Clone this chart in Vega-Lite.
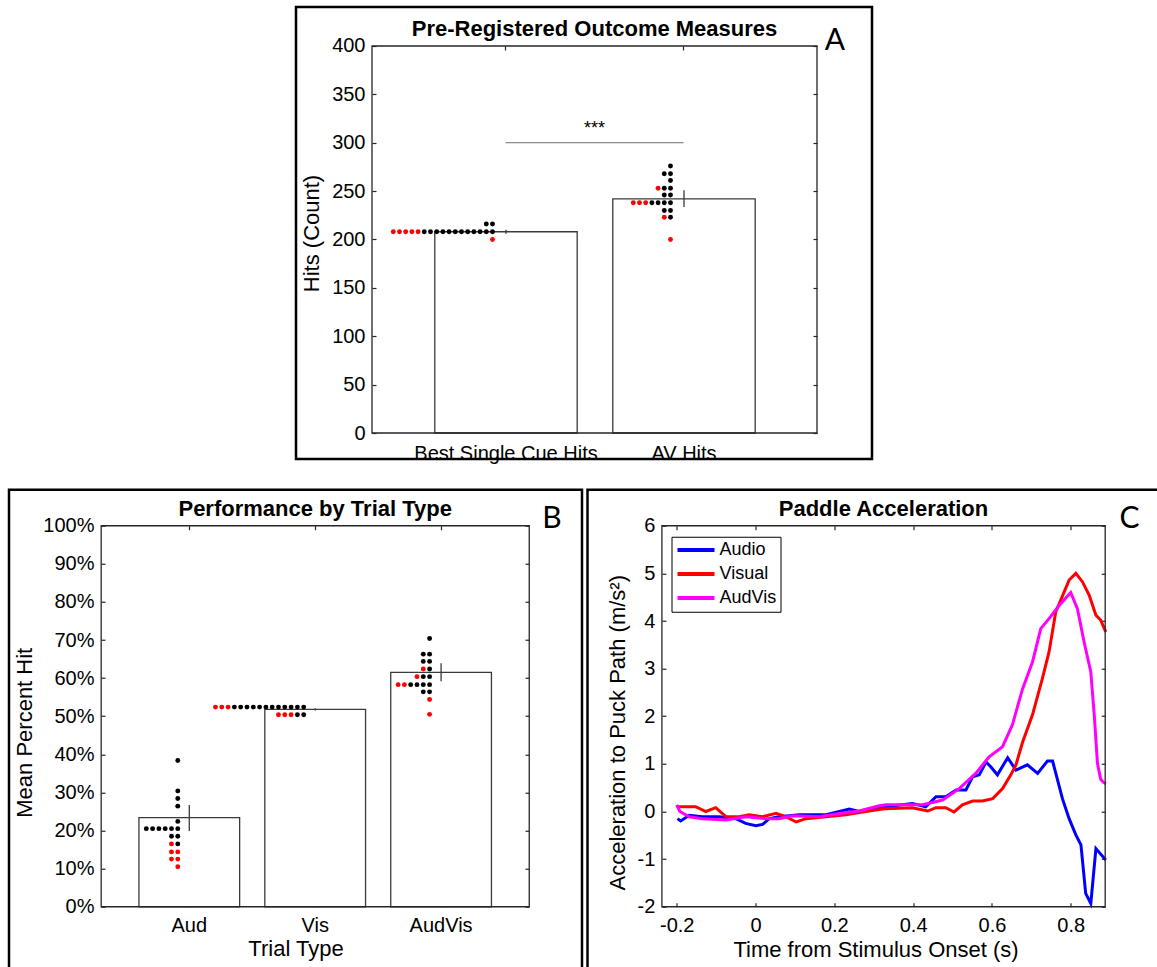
{
  "$schema": "https://vega.github.io/schema/vega-lite/v6.json",
  "background": "white",
  "padding": {"left": 7, "top": 5, "right": -5, "bottom": -3},
  "datasets": {
    "barsA": [
      {"cat": "Best Single Cue Hits", "mean": 208, "lo": 206, "hi": 210},
      {"cat": "AV Hits", "mean": 242, "lo": 233.6, "hi": 250.9}
    ],
    "dotsA": [
      {"cat": "Best Single Cue Hits", "val": 208, "group": "r"},
      {"cat": "Best Single Cue Hits", "val": 208, "group": "r"},
      {"cat": "Best Single Cue Hits", "val": 208, "group": "r"},
      {"cat": "Best Single Cue Hits", "val": 208, "group": "r"},
      {"cat": "Best Single Cue Hits", "val": 208, "group": "r"},
      {"cat": "Best Single Cue Hits", "val": 208, "group": "k"},
      {"cat": "Best Single Cue Hits", "val": 208, "group": "k"},
      {"cat": "Best Single Cue Hits", "val": 208, "group": "k"},
      {"cat": "Best Single Cue Hits", "val": 208, "group": "k"},
      {"cat": "Best Single Cue Hits", "val": 208, "group": "k"},
      {"cat": "Best Single Cue Hits", "val": 208, "group": "k"},
      {"cat": "Best Single Cue Hits", "val": 208, "group": "k"},
      {"cat": "Best Single Cue Hits", "val": 208, "group": "k"},
      {"cat": "Best Single Cue Hits", "val": 208, "group": "k"},
      {"cat": "Best Single Cue Hits", "val": 208, "group": "k"},
      {"cat": "Best Single Cue Hits", "val": 208, "group": "k"},
      {"cat": "Best Single Cue Hits", "val": 208, "group": "k"},
      {"cat": "Best Single Cue Hits", "val": 216, "group": "k"},
      {"cat": "Best Single Cue Hits", "val": 216, "group": "k"},
      {"cat": "Best Single Cue Hits", "val": 200, "group": "r"},
      {"cat": "AV Hits", "val": 276, "group": "k"},
      {"cat": "AV Hits", "val": 268, "group": "k"},
      {"cat": "AV Hits", "val": 268, "group": "k"},
      {"cat": "AV Hits", "val": 261, "group": "k"},
      {"cat": "AV Hits", "val": 253, "group": "r"},
      {"cat": "AV Hits", "val": 253, "group": "k"},
      {"cat": "AV Hits", "val": 253, "group": "k"},
      {"cat": "AV Hits", "val": 246, "group": "k"},
      {"cat": "AV Hits", "val": 246, "group": "k"},
      {"cat": "AV Hits", "val": 238, "group": "r"},
      {"cat": "AV Hits", "val": 238, "group": "r"},
      {"cat": "AV Hits", "val": 238, "group": "r"},
      {"cat": "AV Hits", "val": 238, "group": "k"},
      {"cat": "AV Hits", "val": 238, "group": "k"},
      {"cat": "AV Hits", "val": 238, "group": "k"},
      {"cat": "AV Hits", "val": 238, "group": "k"},
      {"cat": "AV Hits", "val": 230, "group": "k"},
      {"cat": "AV Hits", "val": 230, "group": "k"},
      {"cat": "AV Hits", "val": 223, "group": "r"},
      {"cat": "AV Hits", "val": 223, "group": "k"},
      {"cat": "AV Hits", "val": 200, "group": "r"}
    ],
    "barsB": [
      {"cat": "Aud", "mean": 23.4, "lo": 19.9, "hi": 26.7},
      {"cat": "Vis", "mean": 51.8, "lo": 51.5, "hi": 52.1},
      {"cat": "AudVis", "mean": 61.5, "lo": 59.2, "hi": 63.9}
    ],
    "dotsB": [
      {"cat": "Aud", "val": 38.4, "group": "k"},
      {"cat": "Aud", "val": 30.4, "group": "k"},
      {"cat": "Aud", "val": 28.4, "group": "k"},
      {"cat": "Aud", "val": 26.4, "group": "k"},
      {"cat": "Aud", "val": 22.4, "group": "k"},
      {"cat": "Aud", "val": 20.5, "group": "k"},
      {"cat": "Aud", "val": 20.5, "group": "k"},
      {"cat": "Aud", "val": 20.5, "group": "k"},
      {"cat": "Aud", "val": 20.5, "group": "k"},
      {"cat": "Aud", "val": 20.5, "group": "k"},
      {"cat": "Aud", "val": 20.5, "group": "k"},
      {"cat": "Aud", "val": 18.5, "group": "k"},
      {"cat": "Aud", "val": 18.5, "group": "k"},
      {"cat": "Aud", "val": 16.5, "group": "r"},
      {"cat": "Aud", "val": 16.5, "group": "k"},
      {"cat": "Aud", "val": 14.4, "group": "r"},
      {"cat": "Aud", "val": 14.4, "group": "r"},
      {"cat": "Aud", "val": 12.5, "group": "r"},
      {"cat": "Aud", "val": 12.5, "group": "r"},
      {"cat": "Aud", "val": 10.5, "group": "r"},
      {"cat": "Vis", "val": 52.4, "group": "r"},
      {"cat": "Vis", "val": 52.4, "group": "r"},
      {"cat": "Vis", "val": 52.4, "group": "r"},
      {"cat": "Vis", "val": 52.4, "group": "k"},
      {"cat": "Vis", "val": 52.4, "group": "k"},
      {"cat": "Vis", "val": 52.4, "group": "k"},
      {"cat": "Vis", "val": 52.4, "group": "k"},
      {"cat": "Vis", "val": 52.4, "group": "k"},
      {"cat": "Vis", "val": 52.4, "group": "k"},
      {"cat": "Vis", "val": 52.4, "group": "k"},
      {"cat": "Vis", "val": 52.4, "group": "k"},
      {"cat": "Vis", "val": 52.4, "group": "k"},
      {"cat": "Vis", "val": 52.4, "group": "k"},
      {"cat": "Vis", "val": 52.4, "group": "k"},
      {"cat": "Vis", "val": 52.4, "group": "k"},
      {"cat": "Vis", "val": 50.4, "group": "r"},
      {"cat": "Vis", "val": 50.4, "group": "r"},
      {"cat": "Vis", "val": 50.4, "group": "r"},
      {"cat": "Vis", "val": 50.4, "group": "k"},
      {"cat": "Vis", "val": 50.4, "group": "k"},
      {"cat": "AudVis", "val": 70.4, "group": "k"},
      {"cat": "AudVis", "val": 66.3, "group": "k"},
      {"cat": "AudVis", "val": 66.3, "group": "k"},
      {"cat": "AudVis", "val": 64.4, "group": "k"},
      {"cat": "AudVis", "val": 64.4, "group": "k"},
      {"cat": "AudVis", "val": 62.4, "group": "r"},
      {"cat": "AudVis", "val": 62.4, "group": "k"},
      {"cat": "AudVis", "val": 60.4, "group": "r"},
      {"cat": "AudVis", "val": 60.4, "group": "k"},
      {"cat": "AudVis", "val": 60.4, "group": "k"},
      {"cat": "AudVis", "val": 58.3, "group": "r"},
      {"cat": "AudVis", "val": 58.3, "group": "r"},
      {"cat": "AudVis", "val": 58.3, "group": "k"},
      {"cat": "AudVis", "val": 58.3, "group": "k"},
      {"cat": "AudVis", "val": 58.3, "group": "k"},
      {"cat": "AudVis", "val": 58.3, "group": "k"},
      {"cat": "AudVis", "val": 56.4, "group": "k"},
      {"cat": "AudVis", "val": 56.4, "group": "k"},
      {"cat": "AudVis", "val": 54.4, "group": "r"},
      {"cat": "AudVis", "val": 50.5, "group": "r"}
    ],
    "lines": [
      {"cond": "Audio", "t": -0.198, "v": -0.15},
      {"cond": "Audio", "t": -0.19, "v": -0.2},
      {"cond": "Audio", "t": -0.168, "v": -0.08},
      {"cond": "Audio", "t": -0.135, "v": -0.11},
      {"cond": "Audio", "t": -0.092, "v": -0.11},
      {"cond": "Audio", "t": -0.05, "v": -0.15},
      {"cond": "Audio", "t": -0.025, "v": -0.25},
      {"cond": "Audio", "t": 0.001, "v": -0.3},
      {"cond": "Audio", "t": 0.018, "v": -0.27},
      {"cond": "Audio", "t": 0.035, "v": -0.15},
      {"cond": "Audio", "t": 0.06, "v": -0.11},
      {"cond": "Audio", "t": 0.111, "v": -0.07},
      {"cond": "Audio", "t": 0.179, "v": -0.07},
      {"cond": "Audio", "t": 0.238, "v": 0.05},
      {"cond": "Audio", "t": 0.263, "v": 0.0},
      {"cond": "Audio", "t": 0.305, "v": 0.08},
      {"cond": "Audio", "t": 0.331, "v": 0.1},
      {"cond": "Audio", "t": 0.398, "v": 0.17},
      {"cond": "Audio", "t": 0.432, "v": 0.1},
      {"cond": "Audio", "t": 0.458, "v": 0.31},
      {"cond": "Audio", "t": 0.483, "v": 0.31},
      {"cond": "Audio", "t": 0.509, "v": 0.45},
      {"cond": "Audio", "t": 0.534, "v": 0.45},
      {"cond": "Audio", "t": 0.551, "v": 0.73},
      {"cond": "Audio", "t": 0.568, "v": 0.77},
      {"cond": "Audio", "t": 0.585, "v": 1.04},
      {"cond": "Audio", "t": 0.597, "v": 0.94},
      {"cond": "Audio", "t": 0.614, "v": 0.77},
      {"cond": "Audio", "t": 0.64, "v": 1.13},
      {"cond": "Audio", "t": 0.661, "v": 0.87},
      {"cond": "Audio", "t": 0.69, "v": 0.98},
      {"cond": "Audio", "t": 0.716, "v": 0.8},
      {"cond": "Audio", "t": 0.741, "v": 1.06},
      {"cond": "Audio", "t": 0.754, "v": 1.06},
      {"cond": "Audio", "t": 0.779, "v": 0.27},
      {"cond": "Audio", "t": 0.796, "v": -0.15},
      {"cond": "Audio", "t": 0.813, "v": -0.49},
      {"cond": "Audio", "t": 0.826, "v": -0.7},
      {"cond": "Audio", "t": 0.838, "v": -1.72},
      {"cond": "Audio", "t": 0.851, "v": -1.93},
      {"cond": "Audio", "t": 0.864, "v": -0.78},
      {"cond": "Audio", "t": 0.889, "v": -1.02},
      {"cond": "Visual", "t": -0.198, "v": 0.1},
      {"cond": "Visual", "t": -0.152, "v": 0.1},
      {"cond": "Visual", "t": -0.126, "v": 0.0},
      {"cond": "Visual", "t": -0.101, "v": 0.08},
      {"cond": "Visual", "t": -0.075, "v": -0.11},
      {"cond": "Visual", "t": -0.041, "v": -0.11},
      {"cond": "Visual", "t": -0.016, "v": -0.07},
      {"cond": "Visual", "t": 0.018, "v": -0.11},
      {"cond": "Visual", "t": 0.052, "v": -0.04},
      {"cond": "Visual", "t": 0.077, "v": -0.11},
      {"cond": "Visual", "t": 0.103, "v": -0.22},
      {"cond": "Visual", "t": 0.128, "v": -0.15},
      {"cond": "Visual", "t": 0.179, "v": -0.11},
      {"cond": "Visual", "t": 0.229, "v": -0.07},
      {"cond": "Visual", "t": 0.28, "v": 0.0},
      {"cond": "Visual", "t": 0.331, "v": 0.06},
      {"cond": "Visual", "t": 0.398, "v": 0.08},
      {"cond": "Visual", "t": 0.437, "v": 0.01},
      {"cond": "Visual", "t": 0.458, "v": 0.08},
      {"cond": "Visual", "t": 0.483, "v": 0.08},
      {"cond": "Visual", "t": 0.504, "v": -0.01},
      {"cond": "Visual", "t": 0.525, "v": 0.14},
      {"cond": "Visual", "t": 0.551, "v": 0.22},
      {"cond": "Visual", "t": 0.576, "v": 0.22},
      {"cond": "Visual", "t": 0.602, "v": 0.27},
      {"cond": "Visual", "t": 0.627, "v": 0.48},
      {"cond": "Visual", "t": 0.648, "v": 0.77},
      {"cond": "Visual", "t": 0.661, "v": 0.98},
      {"cond": "Visual", "t": 0.678, "v": 1.46},
      {"cond": "Visual", "t": 0.703, "v": 2.03},
      {"cond": "Visual", "t": 0.728, "v": 2.79},
      {"cond": "Visual", "t": 0.745, "v": 3.35},
      {"cond": "Visual", "t": 0.762, "v": 4.19},
      {"cond": "Visual", "t": 0.796, "v": 4.86},
      {"cond": "Visual", "t": 0.813, "v": 5.0},
      {"cond": "Visual", "t": 0.83, "v": 4.82},
      {"cond": "Visual", "t": 0.847, "v": 4.54},
      {"cond": "Visual", "t": 0.864, "v": 4.12},
      {"cond": "Visual", "t": 0.876, "v": 4.02},
      {"cond": "Visual", "t": 0.889, "v": 3.77},
      {"cond": "AudVis", "t": -0.2, "v": 0.14},
      {"cond": "AudVis", "t": -0.192, "v": 0.0},
      {"cond": "AudVis", "t": -0.168, "v": -0.11},
      {"cond": "AudVis", "t": -0.135, "v": -0.15},
      {"cond": "AudVis", "t": -0.075, "v": -0.18},
      {"cond": "AudVis", "t": -0.025, "v": -0.11},
      {"cond": "AudVis", "t": 0.026, "v": -0.15},
      {"cond": "AudVis", "t": 0.06, "v": -0.15},
      {"cond": "AudVis", "t": 0.094, "v": -0.09},
      {"cond": "AudVis", "t": 0.162, "v": -0.11},
      {"cond": "AudVis", "t": 0.212, "v": -0.04},
      {"cond": "AudVis", "t": 0.263, "v": 0.01},
      {"cond": "AudVis", "t": 0.314, "v": 0.12},
      {"cond": "AudVis", "t": 0.331, "v": 0.14},
      {"cond": "AudVis", "t": 0.424, "v": 0.14},
      {"cond": "AudVis", "t": 0.475, "v": 0.24},
      {"cond": "AudVis", "t": 0.517, "v": 0.48},
      {"cond": "AudVis", "t": 0.559, "v": 0.8},
      {"cond": "AudVis", "t": 0.593, "v": 1.15},
      {"cond": "AudVis", "t": 0.627, "v": 1.36},
      {"cond": "AudVis", "t": 0.652, "v": 1.82},
      {"cond": "AudVis", "t": 0.678, "v": 2.58},
      {"cond": "AudVis", "t": 0.703, "v": 3.14},
      {"cond": "AudVis", "t": 0.724, "v": 3.84},
      {"cond": "AudVis", "t": 0.745, "v": 4.05},
      {"cond": "AudVis", "t": 0.771, "v": 4.33},
      {"cond": "AudVis", "t": 0.8, "v": 4.6},
      {"cond": "AudVis", "t": 0.817, "v": 4.26},
      {"cond": "AudVis", "t": 0.834, "v": 3.56},
      {"cond": "AudVis", "t": 0.851, "v": 2.93},
      {"cond": "AudVis", "t": 0.86, "v": 2.0},
      {"cond": "AudVis", "t": 0.868, "v": 1.0},
      {"cond": "AudVis", "t": 0.876, "v": 0.68},
      {"cond": "AudVis", "t": 0.882, "v": 0.62},
      {"cond": "AudVis", "t": 0.889, "v": 0.58}
    ]
  },
  "spacing": 22.75,
  "resolve": {"scale": {"color": "independent", "xOffset": "independent"}, "legend": {"color": "independent"}},
  "vconcat": [
    {
      "spacing": 0,
      "hconcat": [
        {
          "width": 285, "height": 10,
          "view": {"stroke": null},
          "data": {"values": [{}]},
          "mark": {"type": "text", "text": ""},
          "encoding": {}
        },
        {
          "width": 576, "height": 452,
          "view": {"stroke": "black", "strokeWidth": 2.5},
          "title": {"text": "Pre-Registered Outcome Measures", "offset": -34, "dx": 10.5, "anchor": "middle", "frame": "group"},
          "resolve": {"scale": {"x": "independent", "xOffset": "independent"}, "axis": {"x": "independent", "y": "independent"}},
          "layer": [
            {
              "data": {"name": "barsA"},
              "mark": {"type": "bar", "fill": "white", "stroke": "#3a3a3a", "strokeWidth": 1.3},
              "encoding": {
                "x": {"field": "cat", "type": "nominal", "sort": null,
                  "scale": {"type": "band", "domain": ["Best Single Cue Hits", "AV Hits"], "paddingInner": 0.2, "paddingOuter": 0.718, "align": 0.543},
                  "axis": {"orient": "bottom", "offset": -26, "title": null, "labelAngle": 0, "labelPadding": 14, "bandPosition": 0.5}},
                "y": {"field": "mean", "type": "quantitative",
                  "scale": {"domain": [-26.87, 440.3], "nice": false, "zero": false},
                  "axis": {"orient": "left", "offset": -76, "values": [0, 50, 100, 150, 200, 250, 300, 350, 400], "title": "Hits (Count)", "labelPadding": 11, "titlePadding": 8}}
              }
            },
            {
              "data": {"name": "barsA"},
              "mark": {"type": "rule", "color": "#3a3a3a", "strokeWidth": 1.3},
              "encoding": {
                "x": {"field": "cat", "type": "nominal", "sort": null,
                  "scale": {"type": "band", "domain": ["Best Single Cue Hits", "AV Hits"], "paddingInner": 0.2, "paddingOuter": 0.718, "align": 0.543},
                  "axis": {"orient": "top", "offset": -39, "labels": false, "title": null, "bandPosition": 0.5}},
                "y": {"field": "lo", "type": "quantitative",
                  "axis": {"orient": "right", "offset": -55, "values": [0, 50, 100, 150, 200, 250, 300, 350, 400], "labels": false, "title": null}},
                "y2": {"field": "hi"}
              }
            },
            {
              "data": {"name": "dotsA"},
              "transform": [{"window": [{"op": "row_number", "as": "idx"}], "groupby": ["cat", "val"], "sort": [{"field": "group", "order": "ascending"}]}],
              "mark": {"type": "circle", "size": 24, "opacity": 1},
              "encoding": {
                "x": {"field": "cat", "type": "nominal", "sort": null,
                  "scale": {"type": "band", "domain": ["Best Single Cue Hits", "AV Hits"], "paddingInner": 0.2, "paddingOuter": 0.718, "align": 0.543},
                  "axis": null},
                "xOffset": {"field": "idx", "type": "quantitative", "scale": {"domain": [1, 11], "range": [57.7, -4.3]}},
                "y": {"field": "val", "type": "quantitative", "axis": null},
                "color": {"field": "group", "type": "nominal", "scale": {"domain": ["k", "r"], "range": ["black", "#ff0000"]}, "legend": null}
              }
            },
            {
              "data": {"values": [{}]},
              "mark": {"type": "rect", "filled": false, "color": "#262626", "strokeWidth": 1.3},
              "encoding": {
                "x": {"datum": 0.25, "type": "quantitative", "scale": {"domain": [-0.177, 3.059], "nice": false, "zero": false}, "axis": null},
                "x2": {"datum": 2.75},
                "y": {"datum": 0, "type": "quantitative", "axis": null},
                "y2": {"datum": 400}
              }
            },
            {
              "data": {"values": [{}]},
              "mark": {"type": "rule", "color": "#6e6e6e", "strokeWidth": 1},
              "encoding": {
                "x": {"datum": 1, "type": "quantitative", "scale": {"domain": [-0.177, 3.059], "nice": false, "zero": false}, "axis": null},
                "x2": {"datum": 2},
                "y": {"datum": 300, "type": "quantitative", "axis": null}
              }
            },
            {
              "data": {"values": [{}]},
              "mark": {"type": "text", "text": "***", "fontSize": 18, "font": "Liberation Sans", "baseline": "middle", "align": "center", "color": "black"},
              "encoding": {
                "x": {"datum": 1.5, "type": "quantitative", "scale": {"domain": [-0.177, 3.059], "nice": false, "zero": false}, "axis": null},
                "y": {"datum": 314, "type": "quantitative", "axis": null}
              }
            },
            {
              "data": {"values": [{}]},
              "mark": {"type": "text", "text": "A", "fontSize": 30, "font": "Lato", "baseline": "middle", "align": "center", "color": "black"},
              "encoding": {
                "x": {"datum": 2.85, "type": "quantitative", "scale": {"domain": [-0.177, 3.059], "nice": false, "zero": false}, "axis": null},
                "y": {"datum": 405, "type": "quantitative", "axis": null}
              }
            }
          ]
        }
      ]
    },
    {
      "spacing": 1.5,
      "resolve": {"scale": {"color": "independent", "xOffset": "independent"}, "legend": {"color": "independent"}},
      "hconcat": [
        {
          "width": 573, "height": 485,
          "view": {"stroke": "black", "strokeWidth": 2.5},
          "title": {"text": "Performance by Trial Type", "offset": -31, "dx": 19.7, "anchor": "middle", "frame": "group"},
          "resolve": {"scale": {"x": "independent", "xOffset": "independent"}, "axis": {"x": "independent", "y": "independent"}},
          "layer": [
            {
              "data": {"name": "barsB"},
              "mark": {"type": "bar", "fill": "white", "stroke": "#3a3a3a", "strokeWidth": 1.3},
              "encoding": {
                "x": {"field": "cat", "type": "nominal", "sort": null,
                  "scale": {"type": "band", "domain": ["Aud", "Vis", "AudVis"], "paddingInner": 0.2, "paddingOuter": 0.8756, "align": 0.5893},
                  "axis": {"orient": "bottom", "offset": -68, "title": "Trial Type", "labelAngle": 0, "labelPadding": 13, "titlePadding": 3, "bandPosition": 0.5}},
                "y": {"field": "mean", "type": "quantitative",
                  "scale": {"domain": [-17.85, 109.45], "nice": false, "zero": false},
                  "axis": {"orient": "left", "offset": -92, "values": [0, 10, 20, 30, 40, 50, 60, 70, 80, 90, 100], "labelExpr": "datum.value + '%'", "title": "Mean Percent Hit", "labelPadding": 11, "titlePadding": 6}}
              }
            },
            {
              "data": {"name": "barsB"},
              "mark": {"type": "rule", "color": "#3a3a3a", "strokeWidth": 1.3},
              "encoding": {
                "x": {"field": "cat", "type": "nominal", "sort": null,
                  "scale": {"type": "band", "domain": ["Aud", "Vis", "AudVis"], "paddingInner": 0.2, "paddingOuter": 0.8756, "align": 0.5893},
                  "axis": {"orient": "top", "offset": -36, "labels": false, "title": null, "bandPosition": 0.5}},
                "y": {"field": "lo", "type": "quantitative",
                  "axis": {"orient": "right", "offset": -53, "values": [0, 10, 20, 30, 40, 50, 60, 70, 80, 90, 100], "labels": false, "title": null}},
                "y2": {"field": "hi"}
              }
            },
            {
              "data": {"name": "dotsB"},
              "transform": [{"window": [{"op": "row_number", "as": "idx"}], "groupby": ["cat", "val"], "sort": [{"field": "group", "order": "ascending"}]}],
              "mark": {"type": "circle", "size": 24, "opacity": 1},
              "encoding": {
                "x": {"field": "cat", "type": "nominal", "sort": null,
                  "scale": {"type": "band", "domain": ["Aud", "Vis", "AudVis"], "paddingInner": 0.2, "paddingOuter": 0.8756, "align": 0.5893},
                  "axis": null},
                "xOffset": {"field": "idx", "type": "quantitative", "scale": {"domain": [1, 11], "range": [38.86, -24.14]}},
                "y": {"field": "val", "type": "quantitative", "axis": null},
                "color": {"field": "group", "type": "nominal", "scale": {"domain": ["k", "r"], "range": ["black", "#ff0000"]}, "legend": null}
              }
            },
            {
              "data": {"values": [{}]},
              "mark": {"type": "rect", "filled": false, "color": "#262626", "strokeWidth": 1.3},
              "encoding": {
                "x": {"datum": 0.3, "type": "quantitative", "scale": {"domain": [-0.4321, 4.119], "nice": false, "zero": false}, "axis": null},
                "x2": {"datum": 3.7},
                "y": {"datum": 0, "type": "quantitative", "axis": null},
                "y2": {"datum": 100}
              }
            },
            {
              "data": {"values": [{}]},
              "mark": {"type": "text", "text": "B", "fontSize": 30, "font": "Lato", "baseline": "middle", "align": "center", "color": "black"},
              "encoding": {
                "x": {"datum": 3.881, "type": "quantitative", "scale": {"domain": [-0.4321, 4.119], "nice": false, "zero": false}, "axis": null},
                "y": {"datum": 101.8, "type": "quantitative", "axis": null}
              }
            }
          ]
        },
        {
          "width": 576, "height": 485,
          "view": {"stroke": "black", "strokeWidth": 2.5},
          "title": {"text": "Paddle Acceleration", "offset": -31, "dx": 8, "anchor": "middle", "frame": "group"},
          "resolve": {"axis": {"x": "independent", "y": "independent"}},
          "layer": [
            {
              "data": {"name": "lines"},
              "mark": {"type": "line", "strokeWidth": 3},
              "encoding": {
                "x": {"field": "t", "type": "quantitative",
                  "scale": {"domain": [-0.4264, 1.0355], "nice": false, "zero": false},
                  "axis": {"orient": "bottom", "offset": -68, "values": [-0.2, 0, 0.2, 0.4, 0.6, 0.8], "labelExpr": "(datum.value < 0 ? '-' : '') + format(abs(datum.value), '~g')", "title": "Time from Stimulus Onset (s)", "labelPadding": 13, "titlePadding": 4}},
                "y": {"field": "v", "type": "quantitative",
                  "scale": {"domain": [-3.428, 6.756], "nice": false, "zero": false},
                  "axis": {"orient": "left", "offset": -74.4, "values": [-2, -1, 0, 1, 2, 3, 4, 5, 6], "labelExpr": "(datum.value < 0 ? '-' : '') + format(abs(datum.value), '~g')", "title": "Acceleration to Puck Path (m/s²)", "labelPadding": 11, "titlePadding": 8}},
                "color": {"field": "cond", "type": "nominal",
                  "scale": {"domain": ["Audio", "Visual", "AudVis"], "range": ["#0000ff", "#ff0000", "#ff00ff"]},
                  "legend": {"orient": "none", "legendX": 84, "legendY": 47, "title": null, "symbolType": "stroke", "symbolSize": 1369, "symbolStrokeWidth": 4, "clipHeight": 18.5, "labelFontSize": 18, "labelFont": "Liberation Sans", "labelColor": "black", "padding": 4, "strokeColor": "black", "fillColor": "white", "rowPadding": 5, "labelOffset": 3}}
              }
            },
            {
              "data": {"values": [{}]},
              "mark": {"type": "rect", "filled": false, "color": "#262626", "strokeWidth": 1.3},
              "encoding": {
                "x": {"datum": -0.2375, "type": "quantitative",
                  "axis": {"orient": "top", "offset": -36, "values": [-0.2, 0, 0.2, 0.4, 0.6, 0.8], "labels": false, "title": null}},
                "x2": {"datum": 0.8875},
                "y": {"datum": -2, "type": "quantitative",
                  "axis": {"orient": "right", "offset": -58.3, "values": [-2, -1, 0, 1, 2, 3, 4, 5, 6], "labels": false, "title": null}},
                "y2": {"datum": 6}
              }
            },
            {
              "data": {"values": [{}]},
              "mark": {"type": "text", "text": "C", "fontSize": 30, "font": "Lato", "baseline": "middle", "align": "center", "color": "black"},
              "encoding": {
                "x": {"datum": 0.949, "type": "quantitative", "axis": null},
                "y": {"datum": 6.147, "type": "quantitative", "axis": null}
              }
            }
          ]
        }
      ]
    }
  ],
  "config": {
    "font": "Liberation Sans",
    "view": {"stroke": null},
    "axis": {"grid": false, "domain": false, "tickSize": -4, "tickColor": "#262626", "tickWidth": 1.2, "labelFont": "Liberation Sans", "labelFontSize": 20, "labelColor": "black", "labelLimit": 400, "labelFlush": false, "labelOverlap": false, "titleFont": "Liberation Sans", "titleFontSize": 22, "titleFontWeight": "normal", "titleColor": "black", "zindex": 1},
    "title": {"font": "Liberation Sans", "fontSize": 22, "fontWeight": "bold", "color": "black"}
  }
}
